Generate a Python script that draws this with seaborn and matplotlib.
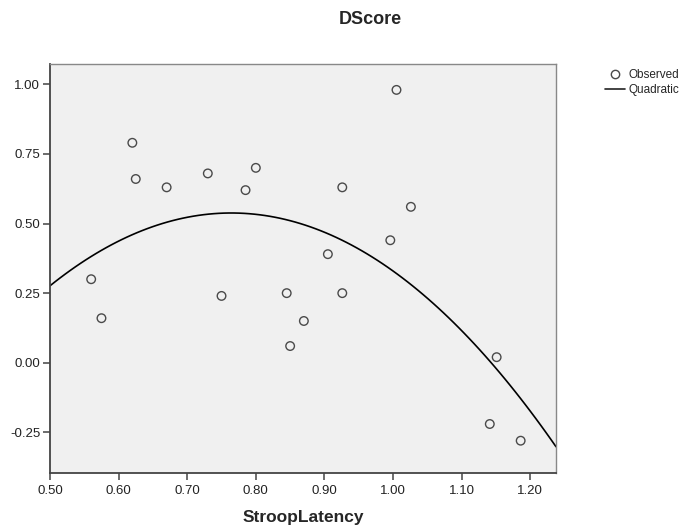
import numpy as np
import pandas as pd
import matplotlib
matplotlib.use("Agg")
import matplotlib.pyplot as plt
import seaborn as sns
from matplotlib.lines import Line2D

# data
stroop_latency = [0.56, 0.575, 0.62, 0.625, 0.67, 0.73, 0.75, 0.785, 0.80, 0.845,
                  0.85, 0.87, 0.905, 0.926, 0.926, 1.005, 0.996, 1.026, 1.151, 1.141, 1.186]
dscore = [0.30, 0.16, 0.79, 0.66, 0.63, 0.68, 0.24, 0.62, 0.70, 0.25,
          0.06, 0.15, 0.39, 0.63, 0.25, 0.98, 0.44, 0.56, 0.02, -0.22, -0.28]
x_ticks = [0.5, 0.6, 0.7, 0.8, 0.9, 1.0, 1.1, 1.2]
y_ticks = [-0.25, 0.0, 0.25, 0.5, 0.75, 1.0]

df = pd.DataFrame({"StroopLatency": stroop_latency, "DScore": dscore})

sns.set_style("white")
plt.rcParams['font.family'] = ['Liberation Sans', 'DejaVu Sans']

fig = plt.figure(figsize=(6.98, 5.29), dpi=100)
ax = fig.add_axes([50 / 698, 56 / 529, 506 / 698, 409 / 529])
ax.set_facecolor("#f0f0f0")
ax.set_xlim(0.5, 1.2375)
ax.set_ylim(-0.396, 1.073)

# quadratic fit line across the whole axis
sns.regplot(data=df, x="StroopLatency", y="DScore", order=2, ci=None,
            truncate=False, scatter=False, ax=ax,
            line_kws={"color": "black", "lw": 1.2})
sns.scatterplot(data=df, x="StroopLatency", y="DScore", ax=ax, s=38,
                marker="o", facecolor="none", edgecolor="#4a4a4a", linewidth=1.0)
ax.set_xlim(0.5, 1.2375)
ax.set_ylim(-0.396, 1.073)

ax.set_xticks(x_ticks)
ax.set_yticks(y_ticks)
ax.set_xticklabels([f"{v:.2f}" for v in x_ticks], fontsize=9.5, color="#222222")
ax.set_yticklabels([f"{v:.2f}" for v in y_ticks], fontsize=9.5, color="#222222")
ax.tick_params(axis="both", direction="out", length=5, width=1.1, color="#444444",
               bottom=True, left=True, pad=2)
ax.tick_params(axis="x", pad=4)
for side in ["left", "bottom"]:
    ax.spines[side].set_color("#444444")
    ax.spines[side].set_linewidth(1.3)
for side in ["top", "right"]:
    ax.spines[side].set_color("#888888")
    ax.spines[side].set_linewidth(1.0)

ax.set_xlabel("StroopLatency", fontsize=12.5, fontweight="bold", labelpad=9)
ax.set_ylabel("")
fig.text(370 / 698, 1 - 19 / 529, "DScore", fontsize=13, fontweight="bold",
         ha="center", va="center")

handles = [
    Line2D([], [], ls="none", marker="o", markersize=6, markerfacecolor="none",
           markeredgecolor="#4a4a4a", markeredgewidth=1.0),
    Line2D([], [], color="#222222", lw=1.2),
]
fig.legend(handles, ["Observed", "Quadratic"], loc="upper left",
           bbox_to_anchor=(599 / 698, 1 - 63 / 529), frameon=False, fontsize=8.5,
           handlelength=1.7, handletextpad=0.3, labelspacing=0.25, borderpad=0)

fig.savefig("out.png", dpi=100)
